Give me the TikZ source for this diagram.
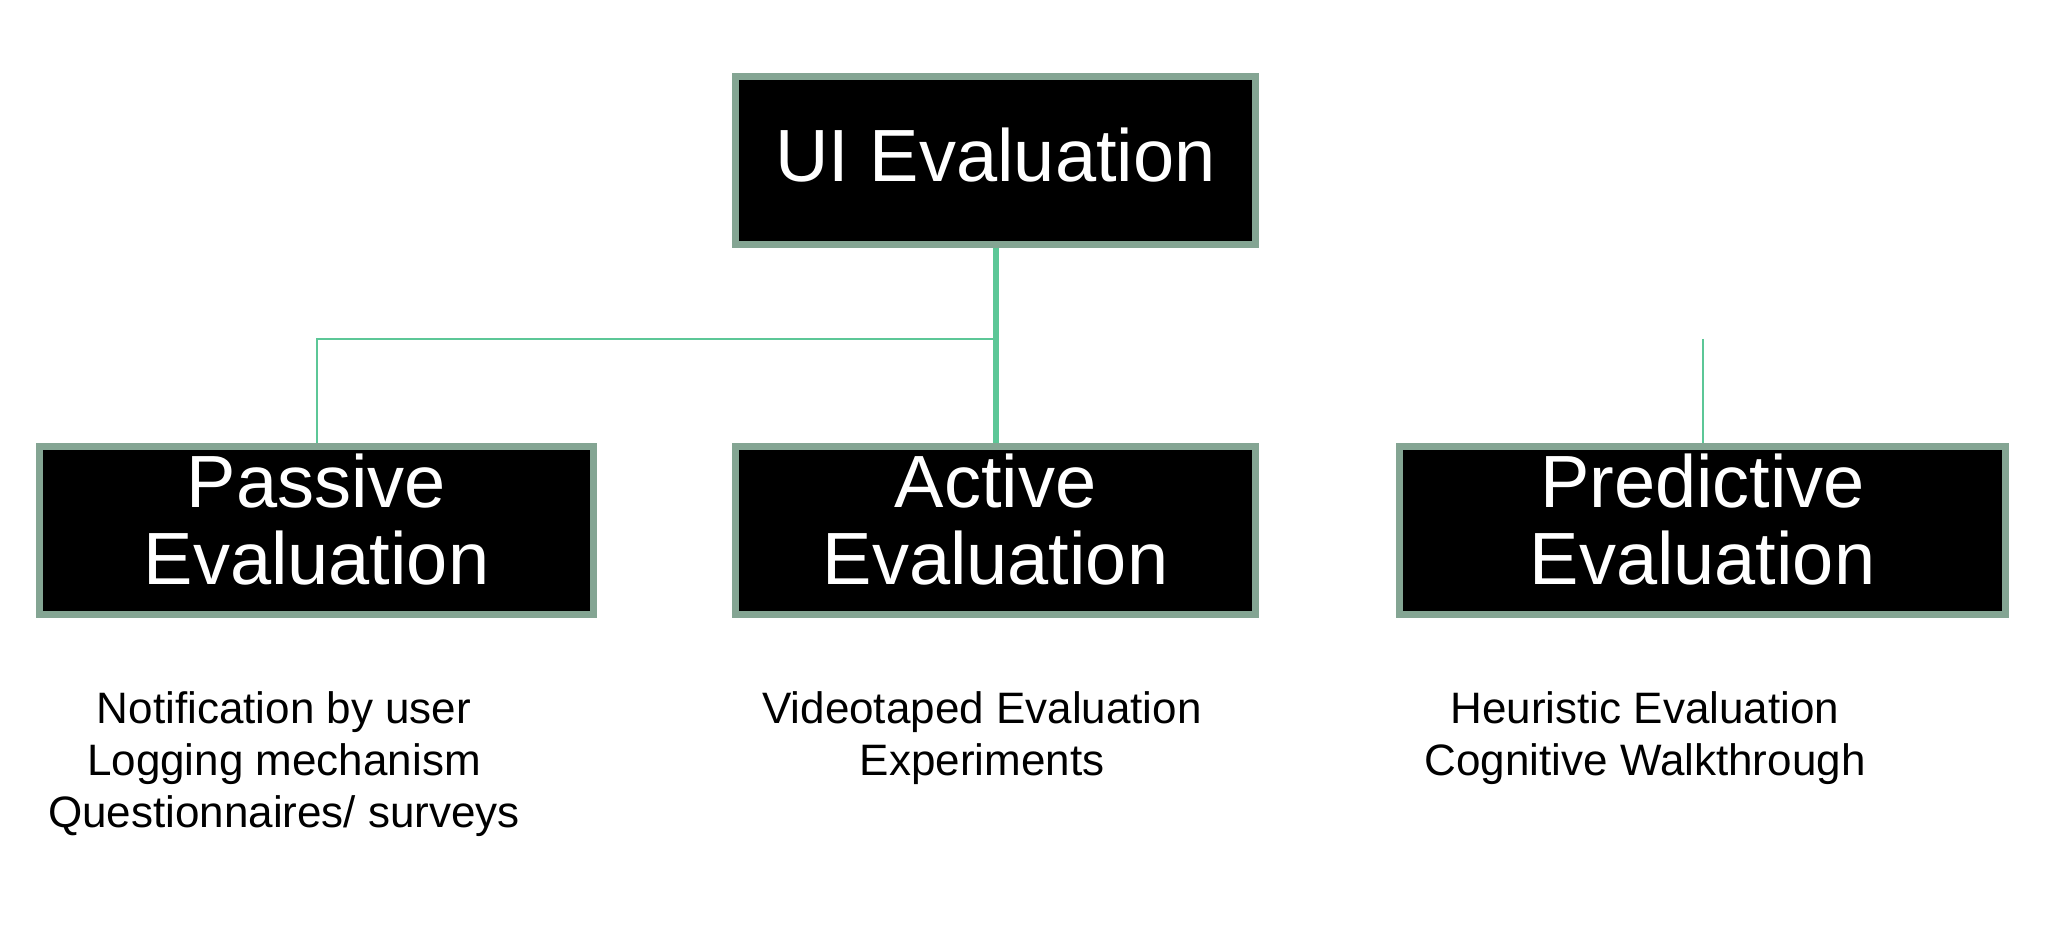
\documentclass[tikz,border=0pt]{standalone}
\usepackage{fontspec}
\setmainfont{Liberation Sans}
\definecolor{frame}{HTML}{84A593}
\definecolor{link}{HTML}{5CC797}
\begin{document}
\begin{tikzpicture}[x=0.5pt,y=-0.5pt,
 box/.style={draw=frame, line width=3.5pt, fill=black, inner sep=0pt, minimum height=84pt},
 boxtext/.style={text=white, font=\fontsize{37}{38.5}\selectfont, align=center, inner sep=0pt},
 item/.style={font=\fontsize{22}{26}\selectfont, align=center, inner sep=0pt, anchor=north},
 thickline/.style={draw=link, line width=3pt},
 thinline/.style={draw=link, line width=1pt}]
\useasboundingbox[fill=white] (0,0) rectangle (2054,930);
\coordinate (qj) at (1702.5,339);
\coordinate (aj) at (995.5,339);
\node[box, minimum width=260pt] (ui) at (995.5,160.5) {};
\node[box, minimum width=277pt] (passive) at (316.5,530) {};
\node[box, minimum width=260pt] (active) at (995.5,530) {};
\node[box, minimum width=303pt] (predictive) at (1702.5,530) {};
\draw[thinline] (aj) -| (passive.north);
\draw[thinline] (qj) -- (predictive.north);
\draw[thickline] (ui.south) -- (active.north);
\node[boxtext] (uit) at (995.5,155) {UI Evaluation};
\node[boxtext] (passivet) at (316.5,520) {Passive\\Evaluation};
\node[boxtext] (activet) at (995.5,520) {Active\\Evaluation};
\node[boxtext] (predictivet) at (1702.5,520) {Predictive\\Evaluation};
\node[item] (pitems) at (284,691) {Notification by user\\Logging mechanism\\Questionnaires/ surveys};
\node[item] (aitems) at (982,691) {Videotaped Evaluation\\Experiments};
\node[item] (qitems) at (1645,691) {Heuristic Evaluation\\Cognitive Walkthrough};
\end{tikzpicture}
\end{document}
